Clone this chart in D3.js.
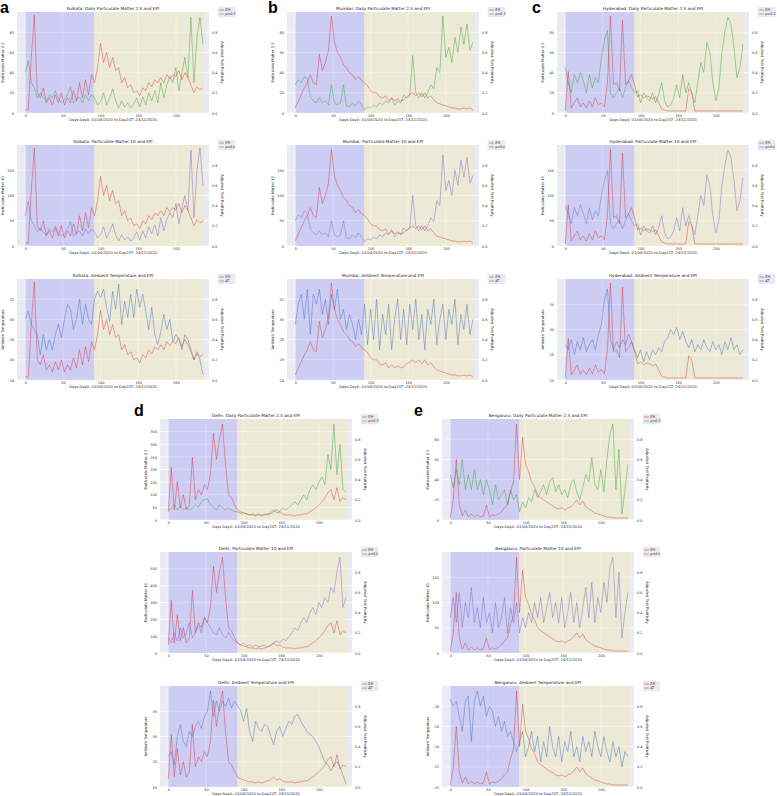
<!DOCTYPE html>
<html><head><meta charset="utf-8">
<script src="https://cdn.jsdelivr.net/npm/d3@7"></script>
<style>
body{margin:0;background:#fff;}
svg text{font-family:"DejaVu Sans",sans-serif;}
</style>
</head><body>
<svg id="chart" width="777" height="796"></svg>
<script>
// ---------- data (one value every 4 days, Day0 .. Day236) ----------
const STEP_DAYS = 4;
const X_TICKS = [0, 50, 100, 150, 200];
const LOCKDOWN_END = 91.5, LAST_DAY = 237.5;

// EPI (red, right axis)
const KOL_EPI = [0.03,0.03,0.55,0.97,0.2,0.15,0.25,0.1,0.15,0.08,0.18,0.1,0.2,0.08,0.15,0.1,0.22,0.12,0.3,0.15,0.33,0.18,0.38,0.3,0.45,0.69,0.5,0.6,0.45,0.55,0.42,0.45,0.3,0.35,0.25,0.28,0.2,0.22,0.17,0.25,0.22,0.3,0.26,0.33,0.3,0.35,0.3,0.38,0.34,0.38,0.36,0.42,0.33,0.4,0.35,0.28,0.2,0.26,0.23,0.25];
const MUM_EPI = [0.05,0.12,0.18,0.25,0.3,0.38,0.3,0.28,0.58,0.42,0.5,0.62,0.96,0.7,0.6,0.55,0.48,0.45,0.4,0.38,0.33,0.36,0.32,0.3,0.27,0.22,0.2,0.2,0.16,0.15,0.17,0.12,0.15,0.12,0.14,0.12,0.13,0.16,0.18,0.2,0.17,0.2,0.16,0.2,0.15,0.17,0.13,0.1,0.09,0.08,0.07,0.06,0.05,0.05,0.04,0.04,0.05,0.04,0.05,0.03];
const HYD_EPI = [0.02,0.41,0.05,0.1,0.15,0.06,0.1,0.05,0.12,0.06,0.15,0.08,0.1,0.06,0.3,0.96,0.28,0.3,0.22,0.92,0.28,0.32,0.38,0.28,0.16,0.18,0.15,0.17,0.16,0.14,0.16,0.1,0.04,0.03,0.02,0.02,0.02,0.02,0.02,0.02,0.02,0.24,0.2,0.02,0.02,0.02,0.02,0.02,0.02,0.02,0.02,0.02,0.02,0.02,0.02,0.02,0.02,0.02,0.02,0.02];
const DEL_EPI = [0.08,0.52,0.1,0.38,0.12,0.25,0.1,0.15,0.62,0.2,0.3,0.25,0.35,0.3,0.45,0.86,0.6,0.8,0.95,0.55,0.25,0.22,0.15,0.1,0.08,0.07,0.06,0.05,0.05,0.04,0.05,0.04,0.05,0.06,0.07,0.1,0.07,0.08,0.06,0.05,0.05,0.05,0.04,0.05,0.05,0.06,0.06,0.08,0.1,0.12,0.15,0.18,0.22,0.27,0.3,0.2,0.32,0.18,0.22,0.2];
const BLR_EPI = [0.02,0.2,0.6,0.15,0.04,0.1,0.03,0.06,0.03,0.05,0.03,0.04,0.15,0.03,0.05,0.04,0.06,0.08,0.12,0.15,0.28,0.38,0.95,0.4,0.82,0.55,0.48,0.38,0.33,0.25,0.22,0.2,0.18,0.16,0.14,0.12,0.11,0.12,0.1,0.12,0.13,0.16,0.2,0.15,0.19,0.13,0.11,0.09,0.07,0.06,0.05,0.04,0.03,0.03,0.02,0.02,0.02,0.02,0.02,0.02];

// PM2.5
const KOL_PM25 = [40,52,30,25,15,20,15,12,18,15,22,14,10,13,18,26,10,13,16,10,18,12,18,15,8,11,20,8,15,24,12,5,12,6,10,5,9,15,6,16,8,20,12,22,10,30,15,28,36,30,45,22,40,55,35,95,30,75,95,68];
const MUM_PM25 = [28,33,30,36,34,16,12,10,15,10,12,8,28,10,8,10,28,7,6,10,7,12,8,3,6,5,8,6,10,8,12,10,15,8,12,10,18,15,18,57,20,15,20,15,20,28,24,45,40,96,55,65,50,75,60,85,68,88,62,70];
const HYD_PM25 = [45,30,20,38,30,40,32,20,38,25,35,30,55,72,82,20,15,20,25,15,25,32,25,20,22,10,20,15,12,20,10,18,30,12,6,8,15,28,15,38,20,30,20,10,30,50,40,70,60,30,12,25,60,80,95,88,65,35,45,68];
const DEL_PM25 = [40,45,60,40,55,40,50,40,48,60,50,72,80,85,60,50,40,60,48,40,48,40,34,32,26,28,24,20,24,20,24,20,24,20,24,32,40,32,48,40,48,60,72,60,80,100,80,120,140,120,150,170,140,260,200,380,180,300,120,110];
const BLR_PM25 = [45,32,50,35,60,30,45,30,50,30,40,25,40,30,15,35,20,25,30,15,30,20,25,8,18,12,22,18,30,22,28,35,25,38,42,28,35,25,30,22,35,40,28,20,32,45,38,62,35,30,50,28,60,85,95,30,70,6,30,55];

// PM10
const KOL_PM10 = [60,88,50,40,28,36,26,22,34,28,40,26,20,24,34,48,20,24,30,20,34,24,34,28,16,22,38,16,28,44,22,10,22,12,18,10,16,28,12,30,16,38,24,42,20,56,30,52,66,56,84,44,74,100,70,190,56,150,194,120];
const MUM_PM10 = [50,62,56,70,64,34,26,22,30,22,26,18,50,22,18,22,50,16,14,22,16,26,18,8,14,12,18,14,22,18,26,22,32,18,26,22,36,30,36,100,40,30,40,30,40,56,48,90,80,180,110,130,100,150,120,170,136,176,124,140];
const HYD_PM10 = [80,64,44,76,60,82,64,44,76,52,70,60,100,130,150,44,34,44,52,34,50,64,50,40,44,22,40,30,26,40,22,36,60,26,14,18,30,56,30,76,40,60,40,22,60,100,80,140,120,60,26,50,120,160,190,176,130,70,90,136];
const DEL_PM10 = [90,60,120,72,150,90,120,180,90,120,168,120,210,180,150,120,108,150,108,90,120,90,72,60,48,60,42,48,36,48,36,42,48,36,48,60,72,60,84,72,96,120,150,132,180,210,180,240,270,228,300,270,330,300,390,360,480,570,270,330];
const BLR_PM10 = [70,110,60,120,50,100,70,130,60,90,50,110,60,80,40,100,50,70,110,40,90,60,100,40,70,50,80,60,100,70,110,60,90,120,70,100,60,110,50,80,120,60,100,50,90,130,70,140,60,110,80,140,100,170,190,70,160,30,80,120];

// Ambient temperature
const KOL_AT = [30.0,30.8,29.5,29.0,28.5,26.5,28.5,27.0,28.0,27.0,28.5,29.5,28.2,30.0,31.5,31.0,29.0,30.0,32.0,29.5,31.5,30.0,29.5,32.0,32.8,32.2,33.0,31.2,29.8,32.8,31.0,33.5,29.5,31.8,30.2,32.5,30.2,33.0,31.2,32.5,30.8,29.0,31.2,28.5,27.5,28.8,30.5,29.0,30.0,27.8,28.5,28.0,27.0,28.5,28.0,27.0,26.0,26.8,26.0,24.5];
const MUM_AT = [29.5,31.5,32.5,30,33,28.5,32.5,31.5,33,30.5,32,29.5,32.5,31,33,30,31,29,30.5,29.5,28,30,28.5,31.5,27.5,31,28,32,27,30.5,28.5,31.5,27,30,32,28,31,27.5,31.5,29,32,28,30.5,27,31,29.5,32,27.5,30,31.5,28,31,29.5,32,27.5,30.5,29,31.5,28.5,30];
const HYD_AT = [27,26,28,25,27.6,26,28.4,25.6,27,28,26,29,31,36,38,28,26,27.6,26.4,28,27,29,27.6,26,24.4,26,23.6,25.6,24,26,25,26.4,25.6,27.6,28.4,30,29,30.4,28,29.6,27.6,26.4,28,25.6,27,26,28,26.4,25.6,27.6,26,27,25,27.6,26,28.4,26,27,25,26];
const DEL_AT = [26,27,24.4,30,32.4,29,28,31,30,32,33,31.6,34,35,39,34,37,35,37,36,37.6,35.6,37,36,35.2,33,35.6,31,29,33,31.6,31,32.4,32,30,28.4,31,32,30,31.6,33,32.4,34,34.4,33,32,31,30.4,30,29,28,26.4,25,24.4,23.2,24.4,25,24,22.4,20.6];
const BLR_AT = [28.7,28,28.5,27,25.5,28.5,29,24.5,28.5,29.5,28,29,27,28,27.5,26,27,25.5,26.5,25,25.5,24.5,23.5,24.5,25.5,23,24,25.5,23.5,25,22.5,24.5,23,26,24,23,25,22.5,24.5,23.5,25.5,23,24,22.5,25,23.5,24.5,23,25.5,24,23,25,23.5,22.5,24.5,23,24,22,23.5,23];

const CITY_NAMES = ["Kolkata","Mumbai","Hyderabad","Delhi","Bengaluru"];
const PANEL_LETTERS = ["a","b","c","d","e"];
const X_LABEL = "Days Day0: 01/04/2020 to Day237: 24/11/2020";
const RIGHT_LABEL = "Adjusted Test Positivity";

// ---------- configuration built from the arrays ----------
const cityData = [
  {epi:KOL_EPI, pm25:KOL_PM25, pm10:KOL_PM10, at:KOL_AT, dom:{pm25:[0,100],pm10:[0,200],at:[24,34]}},
  {epi:MUM_EPI, pm25:MUM_PM25, pm10:MUM_PM10, at:MUM_AT, dom:{pm25:[0,100],pm10:[0,200],at:[24,34]}},
  {epi:HYD_EPI, pm25:HYD_PM25, pm10:HYD_PM10, at:HYD_AT, dom:{pm25:[0,100],pm10:[0,200],at:[20,40]}},
  {epi:DEL_EPI, pm25:DEL_PM25, pm10:DEL_PM10, at:DEL_AT, dom:{pm25:[0,400],pm10:[0,600],at:[20,40]}},
  {epi:BLR_EPI, pm25:BLR_PM25, pm10:BLR_PM10, at:BLR_AT, dom:{pm25:[0,100],pm10:[0,200],at:[20,30]}}
];
const kinds = [
  {key:"pm25", legend:"pm2.5", ylab:"Particulate Matter 2.5", title:n=>`${n}: Daily Particulate Matter 2.5 and EPI`, color:"#3aa03a"},
  {key:"pm10", legend:"pm10", ylab:"Particulate Matter 10", title:n=>`${n}: Particulate Matter 10 and EPI`, color:"#7468c8"},
  {key:"at", legend:"AT", ylab:"Ambient Temperature", title:n=>`${n}: Ambient Temperature and EPI`, color:"#3f6fc0"}
];
const layout = [
  {left:17, tops:[12,145,279], letter:[0,13]},
  {left:287, tops:[12,145,279], letter:[268,13]},
  {left:557, tops:[12,145,279], letter:[532,13]},
  {left:160, tops:[419,552,686], letter:[134,416]},
  {left:442, tops:[419,552,686], letter:[414,416]}
];
const W = 192, H = 101;
const EPI_COLOR = "#d62728";

const svg = d3.select("#chart");
const x = d3.scaleLinear().domain([-11, 244]).range([0, W]);

cityData.forEach((cd, ci) => {
  const L = layout[ci];
  svg.append("text").attr("x", L.letter[0]).attr("y", L.letter[1])
    .style("font-family","'Liberation Sans',Arial,sans-serif").style("font-weight","bold")
    .style("font-size","16px").text(PANEL_LETTERS[ci]);

  kinds.forEach((k, ri) => {
    const top = L.tops[ri];
    const g = svg.append("g").attr("transform", `translate(${L.left},${top})`);
    const clipId = `clip${ci}${ri}`;
    g.append("clipPath").attr("id", clipId).append("rect").attr("width", W).attr("height", H);

    const dom = cd.dom[k.key];
    const yL = d3.scaleLinear().domain(dom).range([H, 0]);
    const yR = d3.scaleLinear().domain([0, 1]).range([H, 0]);
    const lTicks = yL.ticks(6).filter(t => t < dom[0] + 0.9*(dom[1]-dom[0]));
    const rTicks = yR.ticks(5).filter(t => t < 0.9);

    g.append("rect").attr("width", W).attr("height", H).attr("fill", "#EAEAF2");
    // grid
    g.selectAll(".hg").data(lTicks).join("line")
      .attr("x1",0).attr("x2",W).attr("y1",d=>yL(d)).attr("y2",d=>yL(d))
      .attr("stroke","#fff").attr("stroke-width",0.7);
    g.selectAll(".vg").data(X_TICKS).join("line")
      .attr("y1",0).attr("y2",H).attr("x1",d=>x(d)).attr("x2",d=>x(d))
      .attr("stroke","#fff").attr("stroke-width",0.7);
    // periods
    g.append("rect").attr("x", x(0)).attr("width", x(LOCKDOWN_END)-x(0)).attr("height", H)
      .attr("fill", "rgba(90,90,255,0.2)");
    g.append("rect").attr("x", x(LOCKDOWN_END)).attr("width", x(LAST_DAY)-x(LOCKDOWN_END)).attr("height", H)
      .attr("fill", "rgba(240,236,180,0.45)");

    const lineL = d3.line().x((d,i)=>x(i*STEP_DAYS)).y(d=>yL(d));
    const lineR = d3.line().x((d,i)=>x(i*STEP_DAYS)).y(d=>yR(d));
    const lg = g.append("g").attr("clip-path", `url(#${clipId})`);
    lg.append("path").datum(cd[k.key]).attr("d", lineL).attr("fill","none")
      .attr("stroke", k.color).attr("stroke-opacity",0.65).attr("stroke-width",0.7);
    lg.append("path").datum(cd.epi).attr("d", lineR).attr("fill","none")
      .attr("stroke", EPI_COLOR).attr("stroke-opacity",0.6).attr("stroke-width",0.7);

    // axes
    const fs = "3.5px";
    const ax = g.append("g").attr("transform",`translate(0,${H})`)
      .call(d3.axisBottom(x).tickValues(X_TICKS).tickSize(0).tickPadding(1.5).tickFormat(d3.format("d")));
    const ayl = g.append("g").call(d3.axisLeft(yL).tickValues(lTicks).tickSize(0).tickPadding(3));
    const ayr = g.append("g").attr("transform",`translate(${W},0)`)
      .call(d3.axisRight(yR).tickValues(rTicks).tickSize(0).tickPadding(3).tickFormat(d3.format(".1f")));
    [ax, ayl, ayr].forEach(a => {
      a.select(".domain").remove();
      a.selectAll("text").style("font-size", fs).attr("fill","#333");
    });

    g.append("text").attr("x", W/2).attr("y", -2).attr("text-anchor","middle")
      .style("font-size","4.2px").attr("fill","#222").text(k.title(CITY_NAMES[ci]));
    g.append("text").attr("x", W/2).attr("y", H+7.5).attr("text-anchor","middle")
      .style("font-size","3.7px").attr("fill","#222").text(X_LABEL);
    g.append("text").attr("transform",`translate(-13,${H/2}) rotate(-90)`).attr("text-anchor","middle")
      .style("font-size","3.7px").attr("fill","#222").text(k.ylab);
    g.append("text").attr("transform",`translate(${W+12},${H/2}) rotate(90)`).attr("text-anchor","middle")
      .style("font-size","3.7px").attr("fill","#222").text(RIGHT_LABEL);

    // legend
    const lgd = g.append("g").attr("transform",`translate(${W+9},-5)`);
    lgd.append("rect").attr("width",17).attr("height",10).attr("rx",1)
      .attr("fill","#EAEAF2").attr("stroke","#ddd").attr("stroke-width",0.3);
    [[EPI_COLOR,"EPI"],[k.color,k.legend]].forEach((e,j)=>{
      lgd.append("line").attr("x1",1.2).attr("x2",6).attr("y1",3+j*4).attr("y2",3+j*4)
        .attr("stroke",e[0]).attr("stroke-opacity",0.7).attr("stroke-width",0.8);
      lgd.append("text").attr("x",7.3).attr("y",4.3+j*4).style("font-size","3.3px").attr("fill","#222").text(e[1]);
    });
  });
});
</script>
</body></html>
